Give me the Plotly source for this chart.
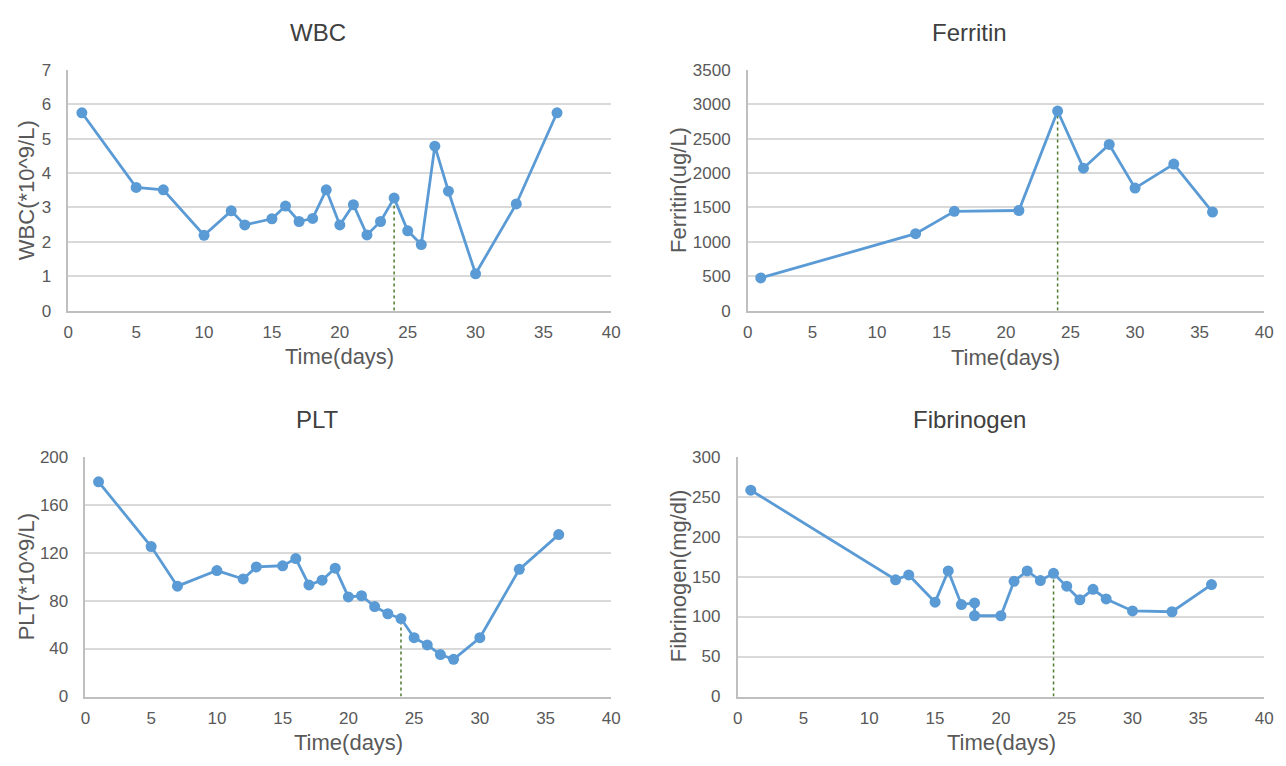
import plotly.graph_objects as go

# ---------------- data ----------------
wbc_days = [1, 5, 7, 10, 12, 13, 15, 16, 17, 18, 19, 20, 21, 22, 23, 24, 25, 26, 27, 28, 30, 33, 36]
wbc_vals = [5.75, 3.58, 3.51, 2.19, 2.90, 2.49, 2.67, 3.04, 2.59, 2.68, 3.51, 2.49, 3.08, 2.20,
            2.59, 3.27, 2.32, 1.92, 4.78, 3.47, 1.07, 3.10, 5.75]

ferritin_days = [1, 13, 16, 21, 24, 26, 28, 30, 33, 36]
ferritin_vals = [475, 1118, 1443, 1455, 2900, 2070, 2415, 1780, 2130, 1432]

plt_days = [1, 5, 7, 10, 12, 13, 15, 16, 17, 18, 19, 20, 21, 22, 23, 24, 25, 26, 27, 28, 30, 33, 36]
plt_vals = [179, 125, 92, 105, 98, 108, 109, 115, 93, 97, 107, 83, 84, 75, 69, 65, 49, 43, 35, 31, 49, 106, 135]

fib_days = [1, 12, 13, 15, 16, 17, 18, 18, 20, 21, 22, 23, 24, 25, 26, 27, 28, 30, 33, 36]
fib_vals = [258, 146, 152, 118, 157, 115, 117, 101, 101, 144, 157, 145, 154, 138, 121, 134, 122, 107, 106, 140]

marker_day = 24

titles = ["WBC", "Ferritin", "PLT", "Fibrinogen"]
y_titles = ["WBC(*10^9/L)", "Ferritin(ug/L)", "PLT(*10^9/L)", "Fibrinogen(mg/dl)"]
x_title = "Time(days)"
y_ranges = [(0, 7, 1), (0, 3500, 500), (0, 200, 40), (0, 300, 50)]

# ---------------- layout geometry (reference pixels -> paper fractions) ----------------
W, H = 1286, 766


def px(x):
    return x / W


def py(y):
    return 1 - y / H


panels = [
    dict(x0=64, x1=613, y0=62.3, y1=309.3, title=(316, 24), ytit=(22, 186), xtit=(338.5, 356)),
    dict(x0=751, x1=1273, y0=62.3, y1=309.3, title=(975, 24), ytit=(681, 186), xtit=(1012, 357)),
    dict(x0=81.3, x1=613, y0=459, y1=705, title=(316, 421), ytit=(22, 582), xtit=(347, 752)),
    dict(x0=740.7, x1=1273, y0=459, y1=705, title=(975, 421), ytit=(681, 582), xtit=(1007, 752)),
]

series = [(wbc_days, wbc_vals), (ferritin_days, ferritin_vals), (plt_days, plt_vals), (fib_days, fib_vals)]

BLUE = "#5B9BD5"
GREEN = "#4E7A2E"
TXT = "#595959"
FONT = "Liberation Sans, Arial, sans-serif"

fig = go.Figure()
annotations = []
layout_axes = {}

for i, (p, (days, vals)) in enumerate(zip(panels, series)):
    n = "" if i == 0 else str(i + 1)
    xa, ya = "x" + n, "y" + n
    # dotted marker line at day 24
    v24 = [v for d, v in zip(days, vals) if d == marker_day][-1]
    fig.add_trace(go.Scatter(x=[marker_day, marker_day], y=[0, v24], mode="lines",
                             line=dict(color=GREEN, width=1.5, dash="dot"),
                             xaxis=xa, yaxis=ya, showlegend=False, hoverinfo="skip"))
    fig.add_trace(go.Scatter(x=days, y=vals, mode="lines+markers",
                             line=dict(color=BLUE, width=2.8),
                             marker=dict(color=BLUE, size=11),
                             xaxis=xa, yaxis=ya, showlegend=False, name=titles[i]))
    r0, r1, dt = y_ranges[i]
    layout_axes["xaxis" + n] = dict(
        domain=[px(p["x0"]), px(p["x1"])], range=[0, 40], dtick=5, tick0=0,
        showgrid=False, zeroline=False, showline=True, linecolor="#BFBFBF", linewidth=1.5,
        ticks="", tickfont=dict(size=17, color=TXT, family=FONT), ticklabelstandoff=5,
        anchor=ya, fixedrange=True)
    layout_axes["yaxis" + n] = dict(
        domain=[py(p["y1"]), py(p["y0"])], range=[r0, r1], dtick=dt, tick0=0,
        showgrid=True, gridcolor="#D9D9D9", gridwidth=1.5, zeroline=False,
        showline=True, linecolor="#BFBFBF", linewidth=1.5,
        ticks="", tickfont=dict(size=17, color=TXT, family=FONT), ticklabelstandoff=12,
        anchor=xa, fixedrange=True)
    annotations.append(dict(text=titles[i], x=px(p["title"][0]), y=py(p["title"][1]),
                            xref="paper", yref="paper", showarrow=False,
                            xanchor="center", yanchor="middle",
                            font=dict(size=24, color="#404040", family=FONT)))
    annotations.append(dict(text=x_title, x=px(p["xtit"][0]), y=py(p["xtit"][1]),
                            xref="paper", yref="paper", showarrow=False,
                            xanchor="center", yanchor="middle",
                            font=dict(size=22, color=TXT, family=FONT)))
    annotations.append(dict(text=y_titles[i], x=px(p["ytit"][0]), y=py(p["ytit"][1]),
                            xref="paper", yref="paper", showarrow=False, textangle=-90,
                            xanchor="center", yanchor="middle",
                            font=dict(size=22, color=TXT, family=FONT)))

fig.update_layout(autosize=True, margin=dict(l=0, r=0, t=0, b=0),
                  paper_bgcolor="white", plot_bgcolor="white",
                  annotations=annotations, showlegend=False, **layout_axes)

post = (
    "document.documentElement.style.margin='0';"
    "document.body.style.margin='0';"
    "document.body.style.overflow='hidden';"
    "var gd=document.getElementById('{plot_id}');"
    "gd.style.width='100vw';gd.style.height='100vh';"
    "Plotly.Plots.resize(gd);"
)

fig.write_html("out.html", default_width="100vw", default_height="100vh",
               config={"responsive": True, "displayModeBar": False}, post_script=post)
